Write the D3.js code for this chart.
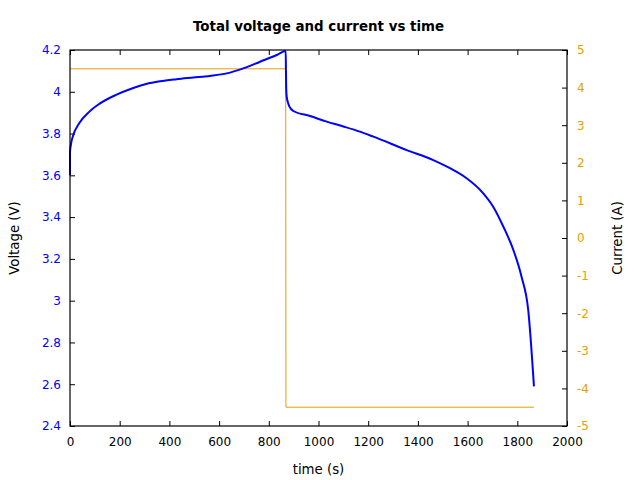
<!DOCTYPE html>
<html>
<head>
<meta charset="utf-8">
<script src="https://cdn.jsdelivr.net/npm/d3@7"></script>
<style>
  body { margin: 0; background: #fff; }
  svg text { font-family: "DejaVu Sans", sans-serif; font-size: 12px; }
</style>
</head>
<body>
<div id="chart"></div>
<script>
// voltage trace (time s, volts)
var voltTime = [0, 0, 4, 11, 37, 78, 118, 185, 252, 306, 362, 429, 496, 563, 631, 697, 765, 832, 868,
                869, 870, 872, 878, 883, 899, 966, 1033, 1100, 1167, 1221, 1355, 1462, 1529,
                1596, 1663, 1703, 1744, 1784, 1817, 1844, 1867];
var voltValue = [3.60, 3.71, 3.75, 3.785, 3.849, 3.905, 3.942, 3.985, 4.017, 4.037, 4.05, 4.06, 4.068, 4.076, 4.088, 4.112, 4.144, 4.176, 4.195,
                 4.10, 4.02, 3.977, 3.945, 3.929, 3.908, 3.884, 3.857, 3.834, 3.809, 3.785, 3.721, 3.673, 3.634,
                 3.586, 3.514, 3.45, 3.354, 3.243, 3.115, 2.955, 2.59];

// current trace (time s, amps)
var currTime = [0, 868, 869, 1867];
var currValue = [4.5, 4.5, -4.5, -4.5];

var timeTicks = [0, 200, 400, 600, 800, 1000, 1200, 1400, 1600, 1800, 2000];
var voltTicks = [2.4, 2.6, 2.8, 3, 3.2, 3.4, 3.6, 3.8, 4, 4.2];
var currTicks = [-5, -4, -3, -2, -1, 0, 1, 2, 3, 4, 5];

var width = 640, height = 480;
var margin = {top: 50, right: 73, bottom: 54, left: 70};
var w = width - margin.left - margin.right;
var h = height - margin.top - margin.bottom;

var blue = "#0000ff", orange = "#e69f00";

var svg = d3.select("#chart").append("svg")
    .attr("width", width)
    .attr("height", height);

var g = svg.append("g")
    .attr("transform", "translate(" + margin.left + "," + margin.top + ")");

var x = d3.scaleLinear().domain([0, 2000]).range([0, w]);
var yV = d3.scaleLinear().domain([2.4, 4.2]).range([h, 0]);
var yA = d3.scaleLinear().domain([-5, 5]).range([h, 0]);

var fmt = function(d) { return String(+d.toFixed(2)); };

// bottom axis
var xAxis = g.append("g")
    .attr("transform", "translate(0," + h + ")")
    .call(d3.axisBottom(x).tickValues(timeTicks).tickFormat(fmt).tickSizeInner(-5).tickSizeOuter(0).tickPadding(11));
// top mirror ticks
var xTop = g.append("g")
    .call(d3.axisTop(x).tickValues(timeTicks).tickFormat("").tickSizeInner(-5).tickSizeOuter(0));

var yLeft = g.append("g")
    .call(d3.axisLeft(yV).tickValues(voltTicks).tickFormat(fmt).tickSizeInner(-5).tickSizeOuter(0).tickPadding(9));
var yRight = g.append("g")
    .attr("transform", "translate(" + w + ",0)")
    .call(d3.axisRight(yA).tickValues(currTicks).tickFormat(fmt).tickSizeInner(-5).tickSizeOuter(0).tickPadding(10));

[xAxis, xTop, yLeft, yRight].forEach(function(a) {
    a.select(".domain").remove();
    a.selectAll("text").style("font-size", "12px").style("font-family", "'DejaVu Sans', sans-serif");
    a.selectAll("line").attr("stroke", "#000");
});
xAxis.selectAll("text").attr("fill", "#000");
yLeft.selectAll("text").attr("fill", blue);
yRight.selectAll("text").attr("fill", orange);

// lines
var currLine = d3.line()
    .x(function(d, i) { return x(currTime[i]); })
    .y(function(d) { return yA(d); });
g.append("path")
    .datum(currValue)
    .attr("fill", "none")
    .attr("stroke", orange)
    .attr("stroke-width", 1)
    .attr("d", currLine);

var voltLine = d3.line()
    .x(function(d, i) { return x(voltTime[i]); })
    .y(function(d) { return yV(d); })
    .curve(d3.curveMonotoneX);
g.append("path")
    .datum(voltValue)
    .attr("fill", "none")
    .attr("stroke", blue)
    .attr("stroke-width", 2)
    .attr("stroke-linejoin", "round")
    .attr("d", voltLine);

// border
g.append("rect")
    .attr("width", w)
    .attr("height", h)
    .attr("fill", "none")
    .attr("stroke", "#000")
    .attr("stroke-width", 1.2);

// titles
svg.append("text")
    .attr("x", margin.left + w / 2)
    .attr("y", 31)
    .attr("text-anchor", "middle")
    .style("font-weight", "bold")
    .style("font-size", "13.4px")
    .text("Total voltage and current vs time");

svg.append("text")
    .attr("x", margin.left + w / 2)
    .attr("y", 474)
    .attr("text-anchor", "middle")
    .style("font-size", "13.3px")
    .text("time (s)");

svg.append("text")
    .attr("transform", "translate(19," + (margin.top + h / 2) + ") rotate(-90)")
    .attr("text-anchor", "middle")
    .style("font-size", "13.3px")
    .text("Voltage (V)");

svg.append("text")
    .attr("transform", "translate(622," + (margin.top + h / 2) + ") rotate(-90)")
    .attr("text-anchor", "middle")
    .style("font-size", "13.3px")
    .text("Current (A)");
</script>
</body>
</html>
